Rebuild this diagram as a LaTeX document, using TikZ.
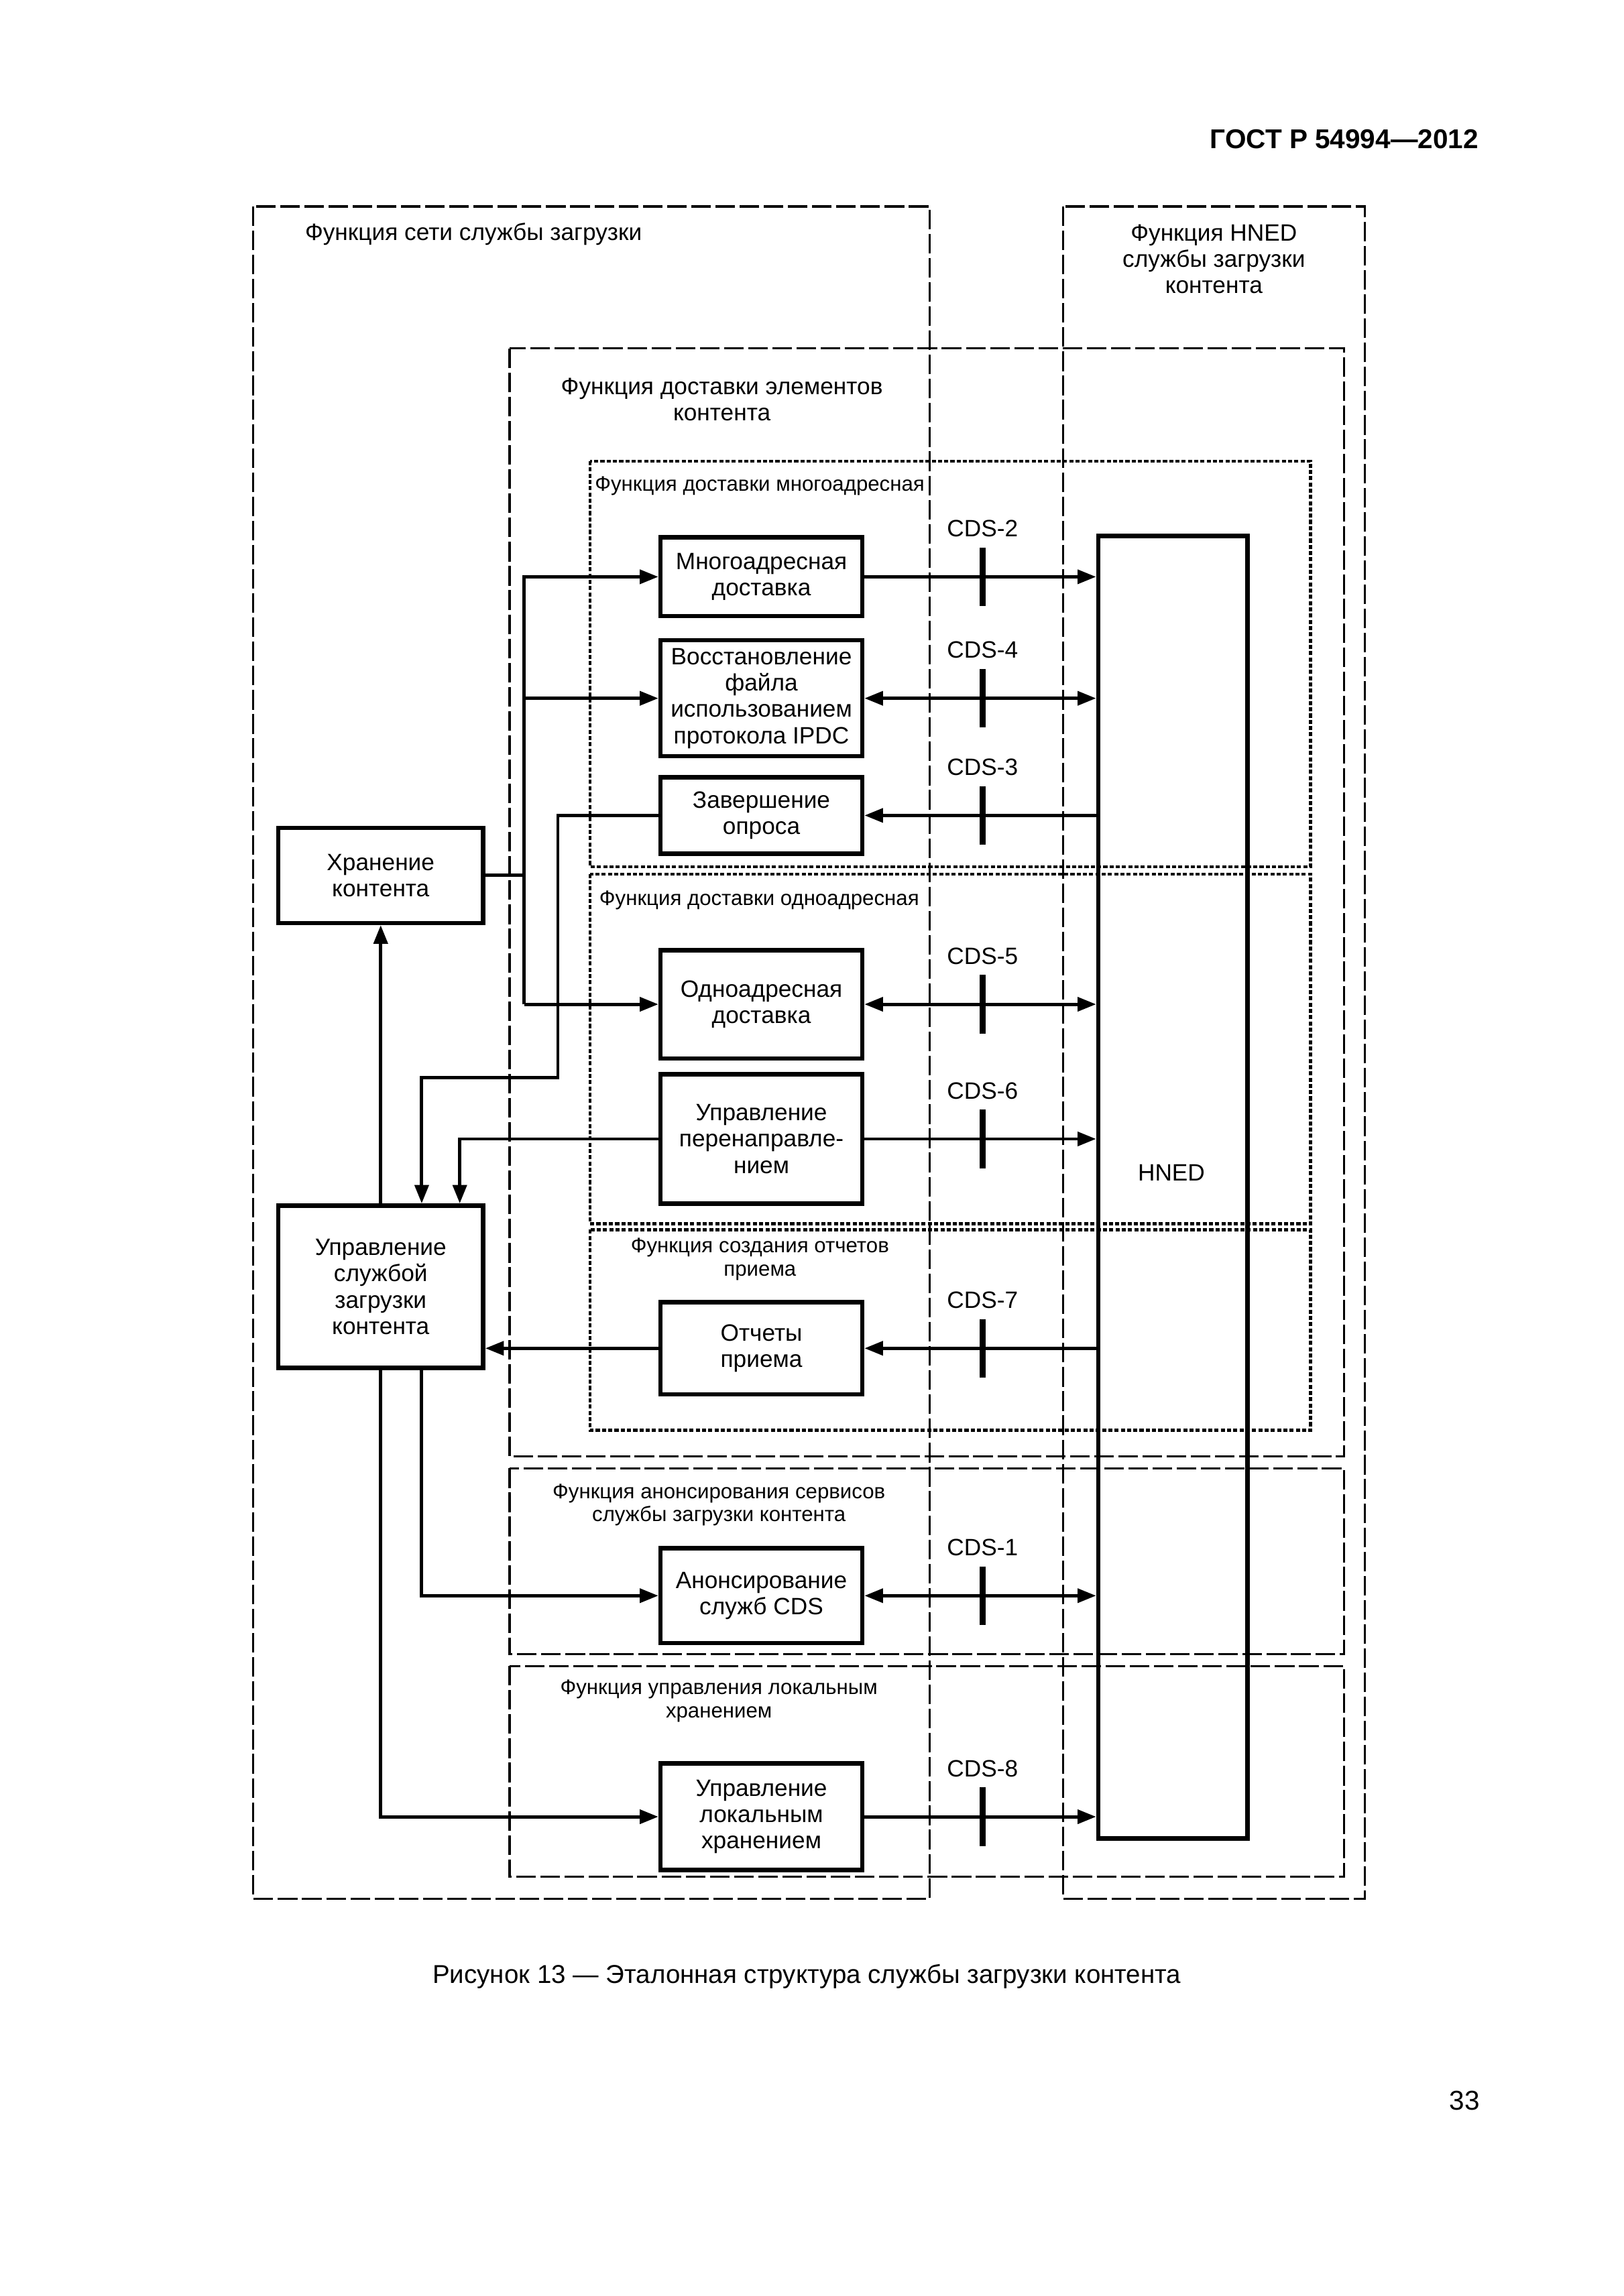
\documentclass[tikz,border=0pt]{standalone}
\usepackage{fontspec}
\setmainfont{Liberation Sans}
\usetikzlibrary{arrows.meta,calc,positioning}

\begin{document}
\begin{tikzpicture}[
	x=0.18937mm, y=-0.18937mm,
	every node/.style={align=center, inner sep=0pt,
	font=\fontsize{8.7}{9.7}\selectfont},
	box/.style={draw, line width=1.6pt, minimum width=26.1mm},
	area/.style={draw, line width=0.8pt, dash pattern=on 7.2pt off 1.7pt},
	sub/.style={draw, line width=1.1pt, dash pattern=on 1.5pt off 0.8pt},
	arr/.style={-{Triangle[length=2.4mm,width=1.8mm]}, line width=1.2pt},
	biarr/.style={{Triangle[length=2.4mm,width=1.8mm]}-{Triangle[length=2.4mm,width=1.8mm]}, line width=1.2pt},
	wire/.style={line width=1.2pt},
	tick/.style={line width=2.3pt},
	small/.style={font=\fontsize{7.7}{8.6}\selectfont}
]
\useasboundingbox (0,0) rectangle (1108.9,1568.4);
\node[anchor=east, font=\bfseries\fontsize{10}{12}\selectfont] (gost) at (1010,95) {ГОСТ Р 54994—2012};

\draw[area] (173,141) rectangle (635,1297);
\draw[area] (726,141) rectangle (932,1297);
\draw[area] (348,238) rectangle (918,995);
\draw[sub] (403,315) rectangle (895,592);
\draw[sub] (403,597) rectangle (895,836);
\draw[sub] (403,840) rectangle (895,977);
\draw[area] (348,1003) rectangle (918,1130);
\draw[area] (348,1138) rectangle (918,1282);

\node[anchor=west] (netlbl) at (208,160) {Функция сети службы загрузки};
\node (hnedfn) at (829,177) {Функция HNED\\службы загрузки\\контента};
\node (elemlbl) at (493,273) {Функция доставки элементов\\контента};
\node[small, anchor=west] (mclbl) at (406,332) {Функция доставки многоадресная};
\node[small, anchor=west] (uclbl) at (409,615) {Функция доставки одноадресная};
\node[small] (replbl) at (519,860) {Функция создания отчетов\\приема};
\node[small] (annlbl) at (491,1028) {Функция анонсирования сервисов\\службы загрузки контента};
\node[small] (loclbl) at (491,1162) {Функция управления локальным\\хранением};

\node[box, minimum width=19.3mm, minimum height=168.5mm] (hned) at (801,811) {};
\node (hnedlbl) at (800,801) {HNED};

\node[box, minimum height=10.2mm] (mcast) at (520,394) {Многоадресная\\доставка};
\node[box, minimum height=15mm] (restore) at (520,477) {Восстановление\\файла\\использованием\\протокола IPDC};
\node[box, minimum height=9.9mm] (poll) at (520,557) {Завершение\\опроса};
\node[box, minimum height=14mm] (ucast) at (520,686) {Одноадресная\\доставка};
\node[box, minimum height=16.7mm] (redir) at (520,778) {Управление\\перенаправле-\\нием};
\node[box, minimum height=11.9mm] (reports) at (520,921) {Отчеты\\приема};
\node[box, minimum height=12.3mm] (announce) at (520,1090) {Анонсирование\\служб CDS};
\node[box, minimum height=13.8mm] (localst) at (520,1241) {Управление\\локальным\\хранением};
\node[box, minimum width=26.5mm, minimum height=12.3mm] (storage) at (260,598) {Хранение\\контента};
\node[box, minimum width=26.5mm, minimum height=21mm] (control) at (260,879) {Управление\\службой\\загрузки\\контента};

\coordinate (bus) at (358,0);
\coordinate (cdsx) at (671,0);
\coordinate (bend) at (381,736);
\coordinate (xa) at (288,0);
\coordinate (xb) at (314,0);

\draw[arr] (mcast.east) -- (mcast.east -| hned.west);
\draw[biarr] (restore.east) -- (restore.east -| hned.west);
\draw[arr] (poll.east -| hned.west) -- (poll.east);
\draw[biarr] (ucast.east) -- (ucast.east -| hned.west);
\draw[arr] (redir.east) -- (redir.east -| hned.west);
\draw[arr] (reports.east -| hned.west) -- (reports.east);
\draw[biarr] (announce.east) -- (announce.east -| hned.west);
\draw[arr] (localst.east) -- (localst.east -| hned.west);

\foreach \n/\k in {mcast/2, restore/4, poll/3, ucast/5, redir/6, reports/7, announce/1, localst/8} {
	\draw[tick] ($(\n.east -| cdsx)+(0,-20)$) -- ($(\n.east -| cdsx)+(0,20)$);
	\node (cds\k) at ($(\n.east -| cdsx)+(0,-33)$) {CDS-\k};
}

\draw[wire] (storage.east) -- (storage.east -| bus);
\draw[arr] (ucast.west -| bus) |- (mcast.west);
\draw[arr] (restore.west -| bus) -- (restore.west);
\draw[arr] (ucast.west -| bus) -- (ucast.west);
\draw[arr] (poll.west) -| (bend) -| (control.north -| xa);
\draw[arr] (redir.west) -| (control.north -| xb);
\draw[arr] (reports.west) -- (reports.west -| control.east);
\draw[arr] (control.north) -- (storage.south);
\draw[arr] (control.south -| xa) |- (announce.west);
\draw[arr] (control.south) |- (localst.west);

\node[font=\fontsize{9.5}{11}\selectfont] (caption) at (551,1350) {Рисунок 13 — Эталонная структура службы загрузки контента};
\node[anchor=east, font=\fontsize{10}{12}\selectfont] (page) at (1011,1435) {33};
\end{tikzpicture}
\end{document}
